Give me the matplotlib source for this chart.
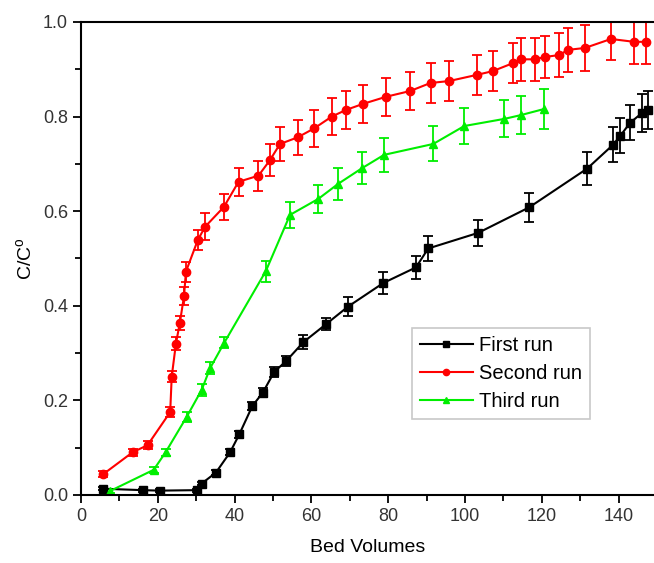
import matplotlib
matplotlib.use("Agg")
import matplotlib.pyplot as plt
from matplotlib.ticker import MultipleLocator

plt.rcParams["font.family"] = ["Liberation Sans", "DejaVu Sans"]

# First run
first_x = [5.7, 16, 20.5, 30.2, 31.4, 35.1, 38.8, 41.2, 44.6, 47.3, 50.3, 53.4,
           57.9, 63.8, 69.5, 78.7, 87.2, 90.4, 103.4, 116.7, 131.8, 138.5,
           140.4, 143, 146, 147.7]
first_y = [0.013, 0.01, 0.009, 0.01, 0.024, 0.047, 0.09, 0.128, 0.188, 0.216,
           0.26, 0.283, 0.323, 0.361, 0.398, 0.448, 0.481, 0.521, 0.554,
           0.608, 0.69, 0.74, 0.759, 0.787, 0.807, 0.814]
first_err = [0.003, 0.003, 0.003, 0.003, 0.004, 0.005, 0.006, 0.007, 0.008,
             0.01, 0.01, 0.01, 0.015, 0.012, 0.02, 0.023, 0.025, 0.026,
             0.027, 0.03, 0.035, 0.037, 0.037, 0.037, 0.04, 0.04]

# Second run
second_x = [5.8, 13.4, 17.3, 23.2, 23.6, 24.7, 25.7, 26.8, 27.3, 30.4, 32.3,
            37.2, 41, 46.2, 49.2, 51.8, 56.4, 60.7, 65.3, 69, 73.5, 79.5,
            85.7, 91, 95.8, 103, 107.2, 112.5, 114.5, 118.2, 120.8, 124.5,
            126.8, 131.2, 138, 144, 147]
second_y = [0.044, 0.09, 0.105, 0.175, 0.25, 0.32, 0.363, 0.42, 0.472, 0.539,
            0.567, 0.609, 0.662, 0.675, 0.708, 0.742, 0.756, 0.775, 0.8,
            0.814, 0.827, 0.842, 0.854, 0.871, 0.875, 0.888, 0.896, 0.913,
            0.921, 0.921, 0.926, 0.93, 0.941, 0.945, 0.964, 0.958, 0.958]
second_err = [0.006, 0.007, 0.008, 0.01, 0.012, 0.013, 0.015, 0.019, 0.021,
              0.021, 0.028, 0.028, 0.03, 0.032, 0.033, 0.035, 0.037, 0.039,
              0.04, 0.04, 0.04, 0.04, 0.04, 0.042, 0.043, 0.043, 0.043,
              0.043, 0.045, 0.045, 0.045, 0.046, 0.046, 0.048, 0.045,
              0.046, 0.046]

# Third run
third_x = [7.5, 18.9, 22, 27.5, 31.4, 33.6, 37.3, 48.1, 54.4, 61.8, 67, 73.2,
           78.9, 91.7, 99.8, 110.2, 114.5, 120.6]
third_y = [0.008, 0.053, 0.09, 0.165, 0.222, 0.268, 0.322, 0.473, 0.592,
           0.626, 0.658, 0.691, 0.719, 0.742, 0.78, 0.795, 0.803, 0.816]
third_err = [0.004, 0.006, 0.008, 0.01, 0.012, 0.012, 0.012, 0.022, 0.028,
             0.029, 0.034, 0.033, 0.036, 0.037, 0.039, 0.039, 0.04, 0.042]

fig = plt.figure(figsize=(6.54, 5.63), dpi=100)
ax = fig.add_axes([0.124, 0.121, 0.876, 0.840])

series = [
    (first_x, first_y, first_err, "black", "s", "First run"),
    (second_x, second_y, second_err, "#ff0000", "o", "Second run"),
    (third_x, third_y, third_err, "#00ee00", "^", "Third run"),
]
handles = []
for x, y, err, color, marker, label in series:
    cont = ax.errorbar(x, y, yerr=err, color=color, marker=marker, markersize=6,
                       linewidth=1.5, elinewidth=1.3, capsize=3.5, capthick=1.3,
                       label=label)
    handles.append(cont[0])

ax.set_xlim(0, 149.2)
ax.set_ylim(0, 1.0)
ax.xaxis.set_major_locator(MultipleLocator(20))
ax.xaxis.set_minor_locator(MultipleLocator(10))
ax.yaxis.set_major_locator(MultipleLocator(0.2))
ax.yaxis.set_minor_locator(MultipleLocator(0.1))
ax.yaxis.set_major_formatter(plt.FuncFormatter(lambda v, p: f"{v:.1f}"))

ax.spines["right"].set_visible(False)
for s in ["left", "bottom", "top"]:
    ax.spines[s].set_linewidth(1.5)
ax.tick_params(which="both", direction="out", width=1.3, labelsize=13,
               colors="black", labelcolor="#333333")
ax.tick_params(which="major", length=6)
ax.tick_params(which="minor", length=4)

ax.set_xlabel("Bed Volumes", fontsize=14, labelpad=10)
ax.set_ylabel("C/C$^\\mathregular{o}$", fontsize=14, labelpad=5)

leg = ax.legend(handles, [s[5] for s in series], loc="upper left",
                bbox_to_anchor=(0.578, 0.353), borderaxespad=0,
                fancybox=False, fontsize=14.5, handlelength=2.6,
                markerscale=0.75, handletextpad=0.3, labelspacing=0.45,
                borderpad=0.4)
leg.get_frame().set_edgecolor("#bbbbbb")
leg.get_frame().set_linewidth(1.2)

fig.savefig("out.png", dpi=100)
